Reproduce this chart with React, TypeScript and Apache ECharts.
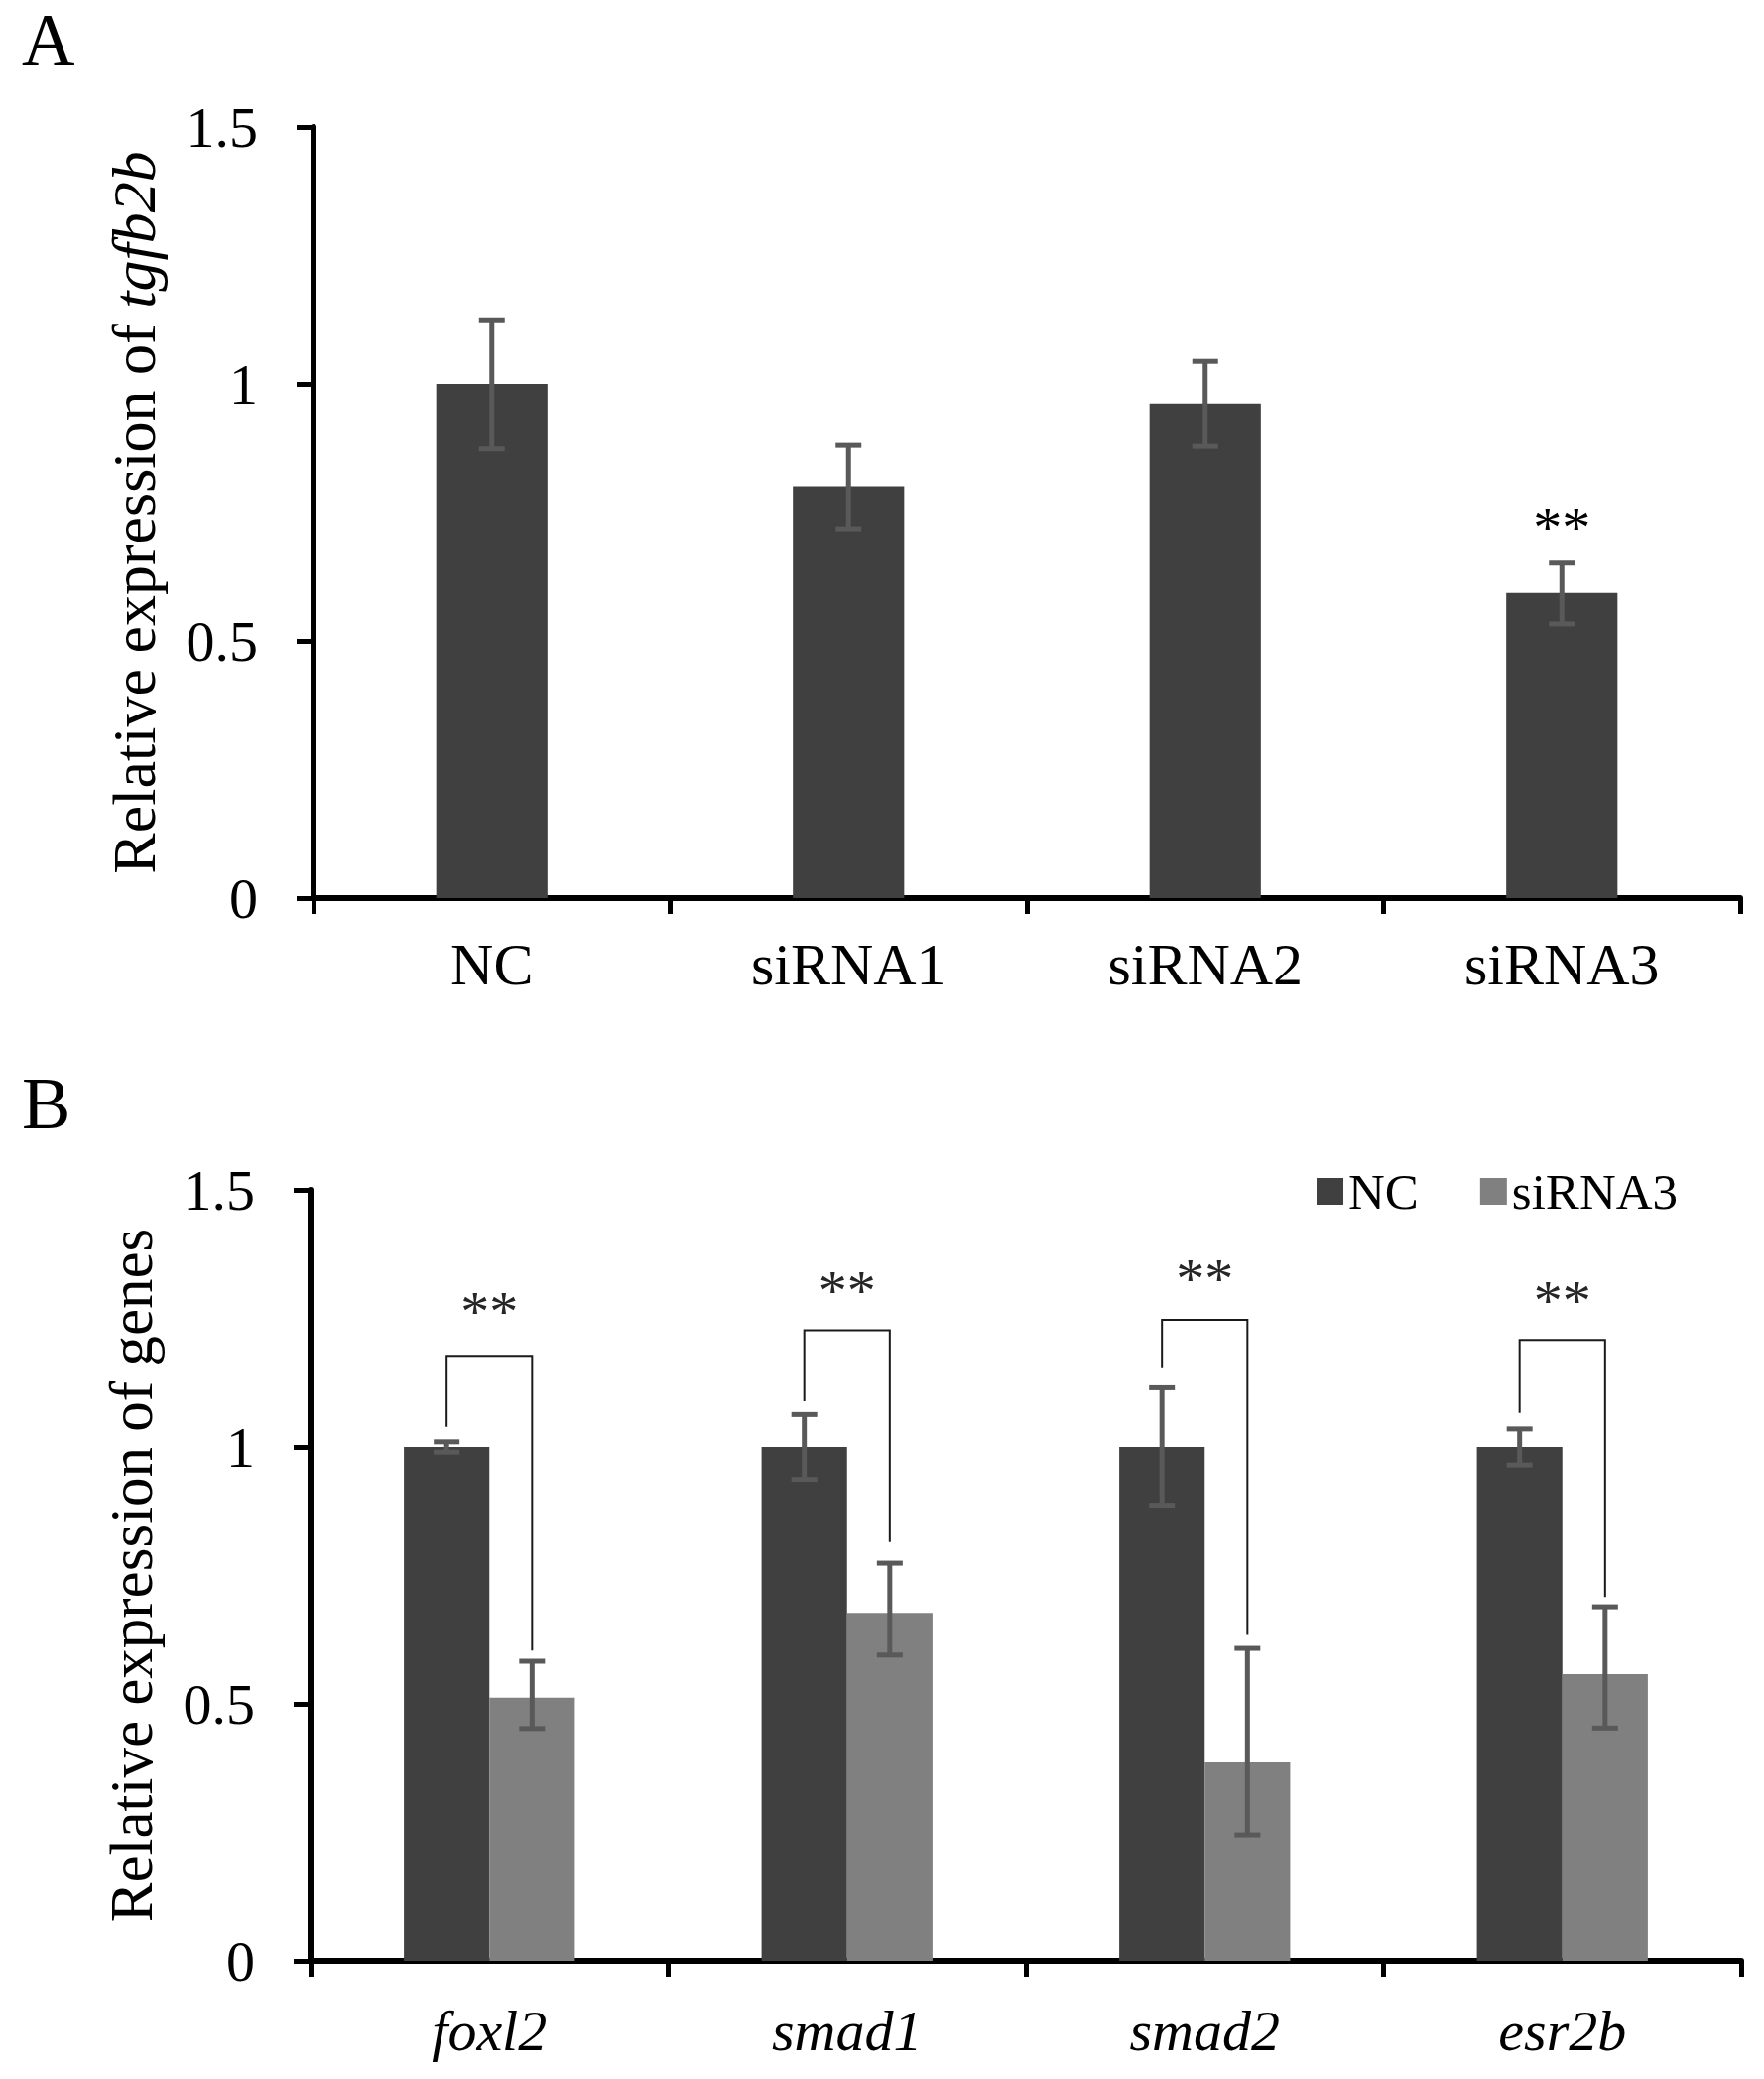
import React, { useEffect, useRef } from 'react';
import * as echarts from 'echarts';

const FONT = '"Liberation Serif", "Times New Roman", serif';

// ---------- Panel A data ----------
const catsA = ['NC', 'siRNA1', 'siRNA2', 'siRNA3'];
const meanA = [1.0, 0.8, 0.962, 0.593];
const errA = [0.125, 0.082, 0.082, 0.06];
const sigTextA = ['', '', '', '**'];
const sigPosA = [0, 0, 0, 0.722];

// ---------- Panel B data ----------
const catsB = ['foxl2', 'smad1', 'smad2', 'esr2b'];
const ncB = [1.0, 1.0, 1.0, 1.0];
const ncErrB = [0.01, 0.063, 0.115, 0.035];
const siB = [0.512, 0.677, 0.386, 0.558];
const siErrLowB = [0.06, 0.082, 0.141, 0.105];
const siErrHighB = [0.071, 0.097, 0.222, 0.131];
const bracketTopB = [1.177, 1.227, 1.247, 1.208];
const bracketLegNcB = [1.039, 1.089, 1.153, 1.066];
const bracketLegSiB = [0.604, 0.815, 0.634, 0.708];
const sigTextB = ['**', '**', '**', '**'];
const sigPosB = [1.263, 1.304, 1.327, 1.284];

// ticks
const yMin = 0;
const yMax = 1.5;
const yStep = 0.5;

const BAR_A = 0.312;
const BAR_B = 0.239;
const ERR_COLOR = '#595959';
const ERR_W = 5;
const CAP = 13;

function errRenderer(offsetSign: number, barPct: number) {
  return (params: any, api: any) => {
    const i = api.value(0);
    const lo = api.value(1);
    const hi = api.value(2);
    const band = api.size([1, 0])[0];
    const off = (offsetSign * band * barPct) / 2;
    const pHi = api.coord([i, hi]);
    const pLo = api.coord([i, lo]);
    const x = pHi[0] + off;
    const st = { stroke: ERR_COLOR, lineWidth: ERR_W };
    return {
      type: 'group',
      children: [
        { type: 'line', shape: { x1: x, y1: pHi[1], x2: x, y2: pLo[1] }, style: st },
        { type: 'line', shape: { x1: x - CAP, y1: pHi[1], x2: x + CAP, y2: pHi[1] }, style: st },
        { type: 'line', shape: { x1: x - CAP, y1: pLo[1], x2: x + CAP, y2: pLo[1] }, style: st },
      ],
    };
  };
}

function starRenderer(texts: string[], color: string) {
  return (params: any, api: any) => {
    const i = api.value(0);
    const p = api.coord([i, api.value(1)]);
    return {
      type: 'text',
      x: p[0],
      y: p[1],
      style: {
        text: texts[i],
        fontSize: 58,
        fontFamily: FONT,
        fill: color,
        align: 'center',
        verticalAlign: 'middle',
      },
    };
  };
}

function bracketRenderer(params: any, api: any) {
  const i = api.value(0);
  const band = api.size([1, 0])[0];
  const off = (band * BAR_B) / 2;
  const pl = api.coord([i, api.value(1)]);
  const pr = api.coord([i, api.value(2)]);
  const pt = api.coord([i, api.value(3)]);
  const xl = pt[0] - off;
  const xr = pt[0] + off;
  return {
    type: 'polyline',
    shape: {
      points: [
        [xl, pl[1]],
        [xl, pt[1]],
        [xr, pt[1]],
        [xr, pr[1]],
      ],
    },
    style: { stroke: '#1a1a1a', lineWidth: 2, fill: 'none' },
  };
}

function makeXAxis(gridIndex: number, data: string[], italic: boolean, fontSize: number, margin: number) {
  return {
    type: 'category',
    gridIndex,
    data,
    axisLine: { show: true, lineStyle: { color: '#000', width: 6 } },
    axisTick: { show: true, length: 16, alignWithLabel: false, lineStyle: { color: '#000', width: 5 } },
    axisLabel: {
      interval: 0,
      margin,
      fontSize,
      fontFamily: FONT,
      fontStyle: italic ? 'italic' : 'normal',
      color: '#000',
    },
    splitLine: { show: false },
  };
}

function makeYAxis(gridIndex: number, name: string, rich: any, nameGap: number) {
  return {
    type: 'value',
    gridIndex,
    min: yMin,
    max: yMax,
    interval: yStep,
    name,
    nameLocation: 'middle',
    nameRotate: 90,
    nameGap,
    nameTextStyle: { fontSize: 62, fontFamily: FONT, color: '#000', rich },
    axisLine: { show: true, lineStyle: { color: '#000', width: 6 } },
    axisTick: { show: true, length: 17, lineStyle: { color: '#000', width: 5 } },
    axisLabel: {
      margin: 56,
      fontSize: 58,
      fontFamily: FONT,
      color: '#000',
      formatter: (v: number) => String(v),
    },
    splitLine: { show: false },
  };
}

export default function App() {
  const ref = useRef<HTMLDivElement>(null);

  useEffect(() => {
    document.body.style.margin = '0';
    if (!ref.current) return;
    const chart = echarts.init(ref.current, undefined, { renderer: 'svg' });

    const richA = {
      n: { fontSize: 62, fontFamily: FONT, color: '#000' },
      i: { fontSize: 62, fontFamily: FONT, fontStyle: 'italic', color: '#000' },
    };
    const richB = {
      n: { fontSize: 61, fontFamily: FONT, color: '#000' },
    };

    const option: any = {
      animation: false,
      backgroundColor: '#fff',
      graphic: [
        { type: 'text', left: 22, top: 3, style: { text: 'A', fontSize: 74, fontFamily: FONT, fill: '#000' } },
        { type: 'text', left: 22, top: 1075, style: { text: 'B', fontSize: 74, fontFamily: FONT, fill: '#000' } },
      ],
      legend: {
        data: ['NC', 'siRNA3'],
        left: 1322,
        top: 1170,
        icon: 'rect',
        itemWidth: 27,
        itemHeight: 27,
        itemGap: 62,
        textStyle: { fontSize: 51, fontFamily: FONT, color: '#000' },
      },
      grid: [
        { left: 316, top: 128, width: 1438, height: 777 },
        { left: 313, top: 1199, width: 1442, height: 777 },
      ],
      xAxis: [makeXAxis(0, catsA, false, 60, 37), makeXAxis(1, catsB, true, 58, 41)],
      yAxis: [
        makeYAxis(0, '{n|Relative expression of }{i|tgfb2b}', richA, 150),
        makeYAxis(1, '{n|Relative expression of genes}', richB, 150),
      ],
      series: [
        {
          name: 'tgfb2b',
          type: 'bar',
          xAxisIndex: 0,
          yAxisIndex: 0,
          barWidth: (BAR_A * 100).toFixed(1) + '%',
          data: meanA,
          itemStyle: { color: '#404040' },
        },
        {
          name: 'errA',
          type: 'custom',
          xAxisIndex: 0,
          yAxisIndex: 0,
          z: 5,
          renderItem: errRenderer(0, BAR_A),
          encode: { x: 0, y: [1, 2] },
          data: meanA.map((m, i) => [i, m - errA[i], m + errA[i]]),
        },
        {
          name: 'sigA',
          type: 'custom',
          xAxisIndex: 0,
          yAxisIndex: 0,
          z: 5,
          renderItem: starRenderer(sigTextA, '#000'),
          encode: { x: 0, y: 1 },
          data: sigTextA.map((t, i) => (t ? [i, sigPosA[i]] : null)).filter((d) => d),
        },
        {
          name: 'NC',
          type: 'bar',
          xAxisIndex: 1,
          yAxisIndex: 1,
          barWidth: (BAR_B * 100).toFixed(1) + '%',
          barGap: '0%',
          data: ncB,
          itemStyle: { color: '#404040' },
        },
        {
          name: 'siRNA3',
          type: 'bar',
          xAxisIndex: 1,
          yAxisIndex: 1,
          barWidth: (BAR_B * 100).toFixed(1) + '%',
          barGap: '0%',
          data: siB,
          itemStyle: { color: '#808080' },
        },
        {
          name: 'errNC',
          type: 'custom',
          xAxisIndex: 1,
          yAxisIndex: 1,
          z: 5,
          renderItem: errRenderer(-1, BAR_B),
          encode: { x: 0, y: [1, 2] },
          data: ncB.map((m, i) => [i, m - ncErrB[i], m + ncErrB[i]]),
        },
        {
          name: 'errSi',
          type: 'custom',
          xAxisIndex: 1,
          yAxisIndex: 1,
          z: 5,
          renderItem: errRenderer(1, BAR_B),
          encode: { x: 0, y: [1, 2] },
          data: siB.map((m, i) => [i, m - siErrLowB[i], m + siErrHighB[i]]),
        },
        {
          name: 'brackets',
          type: 'custom',
          xAxisIndex: 1,
          yAxisIndex: 1,
          z: 5,
          renderItem: bracketRenderer,
          encode: { x: 0, y: [1, 2, 3] },
          data: catsB.map((_, i) => [i, bracketLegNcB[i], bracketLegSiB[i], bracketTopB[i]]),
        },
        {
          name: 'sigB',
          type: 'custom',
          xAxisIndex: 1,
          yAxisIndex: 1,
          z: 5,
          renderItem: starRenderer(sigTextB, '#262626'),
          encode: { x: 0, y: 1 },
          data: sigTextB.map((t, i) => [i, sigPosB[i]]),
        },
      ],
    };

    chart.setOption(option);
    return () => chart.dispose();
  }, []);

  return (
    <div
      ref={ref}
      style={{ position: 'absolute', left: 0, top: 0, width: 1778, height: 2095, background: '#fff' }}
    />
  );
}
